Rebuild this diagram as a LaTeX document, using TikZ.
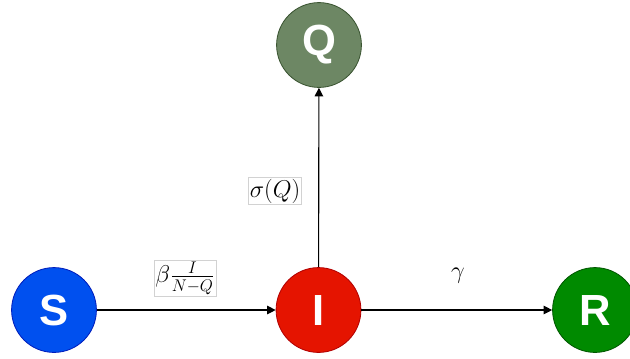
\documentclass[tikz,border=0pt]{standalone}
\usepackage{fontspec}
\setsansfont{Liberation Sans}
\usepackage{tikz}
\usetikzlibrary{arrows.meta}

\definecolor{sblue}{HTML}{0050EF}
\definecolor{sblueline}{HTML}{001DBC}
\definecolor{ired}{HTML}{E51400}
\definecolor{iredline}{HTML}{B20000}
\definecolor{qgreen}{HTML}{6D8764}
\definecolor{qgreenline}{HTML}{3A5431}
\definecolor{rgreen}{HTML}{008A00}
\definecolor{rgreenline}{HTML}{005700}

\begin{document}
\begin{tikzpicture}[x=0.025cm, y=-0.025cm,
    compartment/.style={circle, minimum size=2.12cm, inner sep=0pt, line width=0.6pt,
      text=white, font=\sffamily\bfseries\fontsize{31}{31}\selectfont},
    flow/.style={-{Triangle[length=6pt,width=6pt]}, line width=0.8pt},
    rate/.style={font=\fontsize{16.5}{18}\selectfont},
    ratebox/.style={rate, draw=gray!35, fill=white, inner sep=1pt}]
    \useasboundingbox (0,0) rectangle (630,358);
    % compartments
    \node[compartment, fill=sblue, draw=sblueline] (S) at (54,310) {S};
    \node[compartment, fill=ired, draw=iredline] (I) at (318.5,310) {I};
    \node[compartment, fill=qgreen, draw=qgreenline] (Q) at (319,45) {Q};
    \node[compartment, fill=rgreen, draw=rgreenline] (R) at (595,310) {R};
    % transitions
    \draw[flow] (S) -- (I);
    \draw[flow] (I) -- (Q);
    \draw[flow] (I) -- (R);
    \node[ratebox] (infect) at (185,278) {$\beta\frac{I}{N-Q}$};
    \node[ratebox] (quar) at (275,191) {$\sigma(Q)$};
    \node[rate] (recov) at (458,276) {$\gamma$};
  \end{tikzpicture}
\end{document}
